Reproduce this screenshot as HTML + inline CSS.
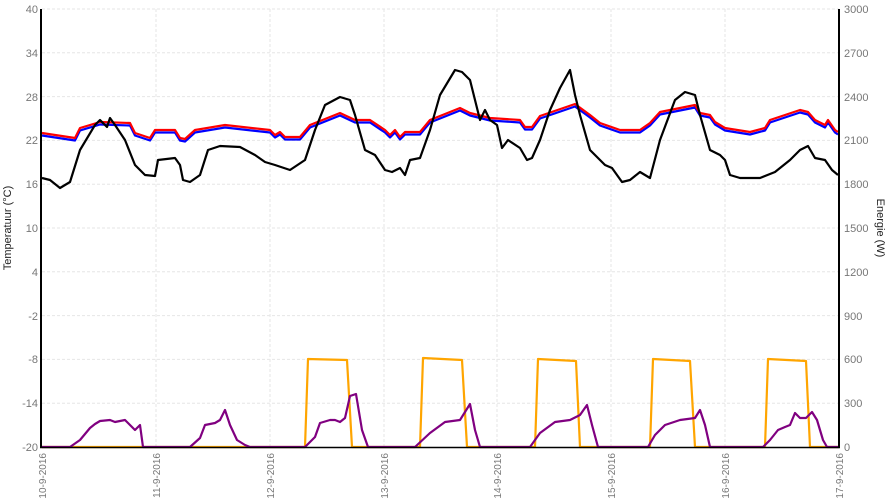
<!DOCTYPE html>
<html><head><meta charset="utf-8"><style>body{margin:0;background:#fff}svg{display:block}</style></head><body>
<svg width="888" height="500" xmlns="http://www.w3.org/2000/svg" font-family="Liberation Sans, sans-serif">
<g stroke="#e6e6e6" stroke-width="1" stroke-dasharray="3,2">
<line x1="42" y1="9" x2="839" y2="9"/><line x1="42" y1="52.8" x2="839" y2="52.8"/><line x1="42" y1="96.6" x2="839" y2="96.6"/><line x1="42" y1="140.4" x2="839" y2="140.4"/><line x1="42" y1="184.2" x2="839" y2="184.2"/><line x1="42" y1="228" x2="839" y2="228"/><line x1="42" y1="271.8" x2="839" y2="271.8"/><line x1="42" y1="315.6" x2="839" y2="315.6"/><line x1="42" y1="359.4" x2="839" y2="359.4"/><line x1="42" y1="403.2" x2="839" y2="403.2"/>
<line x1="156" y1="9" x2="156" y2="447"/><line x1="270" y1="9" x2="270" y2="447"/><line x1="384" y1="9" x2="384" y2="447"/><line x1="497" y1="9" x2="497" y2="447"/><line x1="611" y1="9" x2="611" y2="447"/><line x1="725" y1="9" x2="725" y2="447"/>
</g>
<g font-size="11" fill="#777" text-anchor="end">
<text x="38" y="13">40</text><text x="38" y="57">34</text><text x="38" y="101">28</text><text x="38" y="144">22</text><text x="38" y="188">16</text><text x="38" y="232">10</text><text x="38" y="276">4</text><text x="38" y="320">-2</text><text x="38" y="363">-8</text><text x="38" y="407">-14</text><text x="38" y="451">-20</text>
</g>
<g font-size="11" fill="#777">
<text x="844" y="13">3000</text><text x="844" y="57">2700</text><text x="844" y="101">2400</text><text x="844" y="144">2100</text><text x="844" y="188">1800</text><text x="844" y="232">1500</text><text x="844" y="276">1200</text><text x="844" y="320">900</text><text x="844" y="363">600</text><text x="844" y="407">300</text><text x="844" y="451">0</text>
</g>
<g font-size="10" fill="#777" text-anchor="end">
<text transform="translate(46,453) rotate(-90)">10-9-2016</text>
<text transform="translate(160,453) rotate(-90)">11-9-2016</text>
<text transform="translate(274,453) rotate(-90)">12-9-2016</text>
<text transform="translate(388,453) rotate(-90)">13-9-2016</text>
<text transform="translate(501,453) rotate(-90)">14-9-2016</text>
<text transform="translate(615,453) rotate(-90)">15-9-2016</text>
<text transform="translate(729,453) rotate(-90)">16-9-2016</text>
<text transform="translate(843,453) rotate(-90)">17-9-2016</text>
</g>
<text transform="translate(11,228) rotate(-90)" font-size="11" fill="#222" text-anchor="middle">Temperatuur (°C)</text>
<text transform="translate(877,228) rotate(90)" font-size="11" fill="#222" text-anchor="middle">Energie (W)</text>
<g fill="none" stroke-width="2.2" stroke-linejoin="round">
<polyline stroke="#ffa500" points="42,447 305,447 308,359 347,360 352,447 420,447 423,358 462,360 467,447 535,447 538,359 576,361 580,447 650,447 653,359 690,361 695,447 765,447 768,359 806,361 810,447 839,447"/>
<polyline stroke="#800080" points="42,447 70,447 80,440 90,428 95,424 100,421 110,420 115,422 125,420 130,425 135,430 140,425 143,447 190,447 200,438 205,425 215,423 220,420 225,410 230,425 237,440 245,445 250,447 305,447 315,437 320,423 330,420 335,420 340,422 345,418 350,396 356,394 362,430 368,447 415,447 430,433 445,422 460,420 465,412 470,404 475,430 480,447 530,447 540,433 555,422 570,420 580,415 587,405 592,425 598,447 648,447 655,435 665,425 680,420 695,418 700,410 705,425 710,447 763,447 770,440 778,430 785,427 790,425 795,413 800,418 806,418 812,412 817,420 823,440 827,447 839,447"/>
<polyline stroke="#0000ff" transform="translate(0,2.5)" points="42,133 75,138 80,128 100,122 130,123 135,133 150,138 155,130 175,130 180,138 185,139 195,130 225,125 270,130 275,135 280,132 285,137 300,137 310,125 340,113 355,120 370,120 385,130 390,135 395,130 400,137 405,132 420,132 430,120 460,108 470,113 490,118 520,120 525,127 532,127 540,116 575,104 590,115 600,123 620,130 640,130 650,123 660,112 695,105 700,113 710,115 715,122 725,128 750,132 765,128 770,120 800,110 808,112 815,120 825,125 828,120 835,130 838,132"/>
<polyline stroke="#ff0000" points="42,133 75,138 80,128 100,122 130,123 135,133 150,138 155,130 175,130 180,138 185,139 195,130 225,125 270,130 275,135 280,132 285,137 300,137 310,125 340,113 355,120 370,120 385,130 390,135 395,130 400,137 405,132 420,132 430,120 460,108 470,113 490,118 520,120 525,127 532,127 540,116 575,104 590,115 600,123 620,130 640,130 650,123 660,112 695,105 700,113 710,115 715,122 725,128 750,132 765,128 770,120 800,110 808,112 815,120 825,125 828,120 835,130 838,132"/>
<polyline stroke="#000" points="42,178 50,180 60,188 70,182 80,150 95,125 100,120 107,127 110,118 115,125 125,140 135,165 145,175 155,176 158,160 175,158 180,165 183,180 190,182 200,175 208,150 220,146 240,147 255,155 265,162 275,165 290,170 305,160 315,130 325,105 340,97 350,100 355,115 365,150 375,155 385,170 392,172 400,168 405,175 410,160 420,158 430,130 440,95 455,70 462,72 470,80 475,100 480,120 485,110 490,120 497,125 502,148 508,140 520,148 527,160 532,158 540,140 550,110 560,88 570,70 575,95 580,115 590,150 600,160 605,165 612,168 622,182 630,180 640,172 650,178 660,140 675,100 685,92 695,95 700,115 710,150 720,155 725,160 730,175 740,178 760,178 775,172 790,160 800,150 808,146 815,158 825,160 832,170 838,175"/>
</g>
<line x1="41" y1="9" x2="41" y2="448" stroke="#000" stroke-width="2"/>
<line x1="839" y1="9" x2="839" y2="448" stroke="#000" stroke-width="2"/>
<line x1="40" y1="447.5" x2="840" y2="447.5" stroke="#000" stroke-width="1.5"/>
</svg>
</body></html>
